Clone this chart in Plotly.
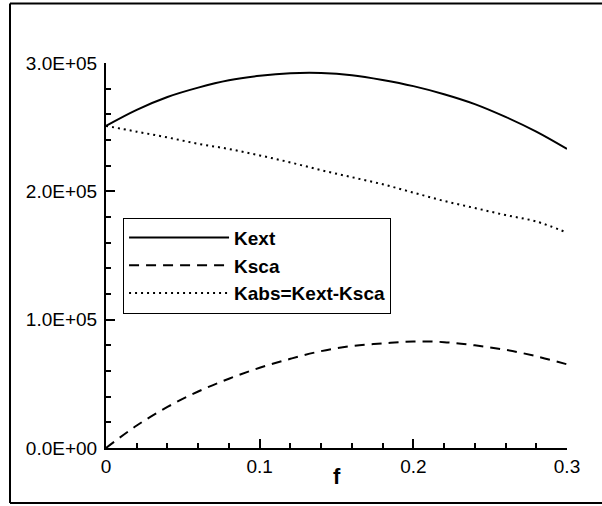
import plotly.graph_objects as go

f_vals = [0.00, 0.02, 0.04, 0.06, 0.08, 0.10, 0.12, 0.14, 0.16, 0.18, 0.20, 0.22, 0.24, 0.26, 0.28, 0.30]
kext = [2.51e5, 2.635e5, 2.735e5, 2.808e5, 2.865e5, 2.90e5, 2.92e5, 2.922e5, 2.905e5, 2.868e5,
        2.82e5, 2.757e5, 2.68e5, 2.58e5, 2.465e5, 2.33e5]
ksca = [0.0, 0.175e5, 0.32e5, 0.44e5, 0.54e5, 0.625e5, 0.695e5, 0.755e5, 0.795e5, 0.815e5,
        0.83e5, 0.825e5, 0.80e5, 0.765e5, 0.715e5, 0.652e5]
kabs = [2.51e5, 2.465e5, 2.42e5, 2.37e5, 2.33e5, 2.28e5, 2.225e5, 2.165e5, 2.11e5, 2.055e5,
        1.99e5, 1.925e5, 1.87e5, 1.815e5, 1.765e5, 1.678e5]

x_tickvals = [0, 0.1, 0.2, 0.3]
x_ticktext = ["0", "0.1", "0.2", "0.3"]
x_minorvals = [0.02, 0.04, 0.06, 0.08, 0.12, 0.14, 0.16, 0.18, 0.22, 0.24, 0.26, 0.28]
y_tickvals = [0, 1e5, 2e5, 3e5]
y_ticktext = ["0.0E+00", "1.0E+05", "2.0E+05", "3.0E+05"]
y_minorvals = [2e4, 4e4, 6e4, 8e4, 1.2e5, 1.4e5, 1.6e5, 1.8e5, 2.2e5, 2.4e5, 2.6e5, 2.8e5]

FONT = "Liberation Sans, Arial, Helvetica, sans-serif"

fig = go.Figure()
fig.add_trace(go.Scatter(x=f_vals, y=kext, mode="lines", name="Kext",
                         line=dict(color="black", width=2, shape="spline")))
fig.add_trace(go.Scatter(x=f_vals, y=ksca, mode="lines", name="Ksca",
                         line=dict(color="black", width=2, dash="10px,7px", shape="spline")))
fig.add_trace(go.Scatter(x=f_vals, y=kabs, mode="lines", name="Kabs=Kext-Ksca",
                         line=dict(color="black", width=2, dash="2px,4px", shape="spline")))

# outer frame (left, top, bottom edges; right edge lies outside the window)
fl, fr, ft, fb = (10 - 106) / 461, (620 - 106) / 461, (448 - 3.5) / 385, (448 - 503) / 385
frame = [
    dict(type="line", xref="paper", yref="paper", x0=fl, x1=fl, y0=fb, y1=ft),
    dict(type="line", xref="paper", yref="paper", x0=fl, x1=fr, y0=ft, y1=ft),
    dict(type="line", xref="paper", yref="paper", x0=fl, x1=fr, y0=fb, y1=fb),
]
for s in frame:
    s["line"] = dict(color="black", width=2)
    s["layer"] = "below"

fig.update_layout(
    width=602, height=506,
    margin=dict(l=106, r=35, t=63, b=58),
    paper_bgcolor="white", plot_bgcolor="white",
    font=dict(family=FONT, color="black", size=19),
    showlegend=True,
    legend=dict(x=0.037, y=0.598, xanchor="left", yanchor="top",
                bgcolor="white", bordercolor="black", borderwidth=1,
                font=dict(family=FONT, size=19, color="black", weight="bold"),
                itemwidth=100, tracegroupgap=0),
    shapes=frame,
    annotations=[dict(text="<b>f</b>", xref="paper", yref="paper", x=0.5, y=(448 - 477) / 385,
                      xanchor="center", yanchor="middle", showarrow=False,
                      font=dict(family=FONT, size=22, color="black"))],
)

fig.update_xaxes(range=[0, 0.3], showgrid=False, zeroline=False,
                 showline=True, linecolor="black", linewidth=2,
                 tickmode="array", tickvals=x_tickvals, ticktext=x_ticktext,
                 ticks="inside", ticklen=9, tickwidth=2, tickcolor="black",
                 tickfont=dict(family=FONT, size=19, color="black"),
                 ticklabelstandoff=0,
                 minor=dict(ticks="inside", ticklen=5, tickwidth=1.5, tickcolor="black",
                            tickmode="array", tickvals=x_minorvals, showgrid=False))
fig.update_yaxes(range=[0, 3e5], showgrid=False, zeroline=False,
                 showline=True, linecolor="black", linewidth=2,
                 tickmode="array", tickvals=y_tickvals, ticktext=y_ticktext,
                 ticks="inside", ticklen=9, tickwidth=2, tickcolor="black",
                 tickfont=dict(family=FONT, size=19, color="black"),
                 ticklabelstandoff=3,
                 minor=dict(ticks="inside", ticklen=5, tickwidth=1.5, tickcolor="black",
                            tickmode="array", tickvals=y_minorvals, showgrid=False))

fig.write_html("out.html", config={"displayModeBar": False},
               post_script="document.body.style.margin='0px';")
